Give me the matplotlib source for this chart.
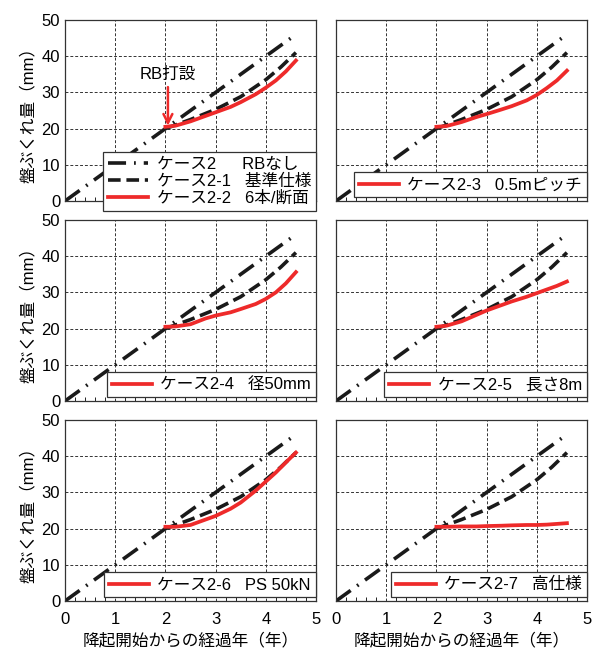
import matplotlib
matplotlib.use('Agg')
import matplotlib.pyplot as plt
from matplotlib.ticker import MultipleLocator

plt.rcParams['font.family'] = ['Liberation Sans', 'Noto Sans CJK JP']

# ケース2 (RBなし) and ケース2-1 (基準仕様)
x_base = [0, 4.5]
y_base = [0, 45]
x_std = [2.0, 2.5, 3.0, 3.5, 4.0, 4.3, 4.6]
y_std = [20.0, 22.5, 25.3, 28.8, 33.5, 37.0, 41.0]

x_red = [2.0, 2.2, 2.5, 2.8, 3.0, 3.3, 3.5, 3.8, 4.0, 4.2, 4.4, 4.6]
cases = [
    ('ケース2-2   6本/断面', [20.5, 20.8, 22.0, 23.5, 24.5, 26.0, 27.3, 29.5, 31.3, 33.3, 35.8, 38.8]),
    ('ケース2-3   0.5mピッチ', [20.5, 20.7, 21.8, 23.2, 24.0, 25.3, 26.2, 27.8, 29.3, 31.2, 33.3, 36.0]),
    ('ケース2-4   径50mm', [20.5, 20.6, 21.2, 22.8, 23.6, 24.5, 25.4, 26.8, 28.2, 30.0, 32.5, 35.6]),
    ('ケース2-5   長さ8m', [20.5, 20.8, 22.0, 23.8, 25.0, 26.5, 27.5, 28.8, 29.8, 30.8, 31.8, 33.0]),
    ('ケース2-6   PS 50kN', [20.5, 20.5, 21.0, 22.5, 23.5, 25.5, 27.2, 30.5, 33.0, 35.5, 38.3, 41.0]),
    ('ケース2-7   高仕様', [20.5, 20.5, 20.6, 20.6, 20.7, 20.8, 20.9, 21.0, 21.0, 21.1, 21.3, 21.5]),
]

W, H = 592, 653
fig = plt.figure(figsize=(W / 100, H / 100), dpi=100)

lefts = [65, 336]
tops = [20, 220, 420]
pw, ph = 251, 181

for i, (label, yv) in enumerate(cases):
    r, c = divmod(i, 2)
    ax = fig.add_axes([lefts[c] / W, 1 - (tops[r] + ph) / H, pw / W, ph / H])
    ax.plot(x_base, y_base, color='#1a1a1a', lw=2.6, dashes=[5, 2.2, 0.5, 2.2],
            label='ケース2　  RBなし')
    ax.plot(x_std, y_std, color='#1a1a1a', lw=2.6, dashes=[3.5, 1.6],
            label='ケース2-1   基準仕様')
    ax.plot(x_red, yv, color='#ee2a2a', lw=2.7, label=label)
    ax.set_xlim(0, 5)
    ax.set_ylim(0, 50)
    ax.xaxis.set_major_locator(MultipleLocator(1))
    ax.xaxis.set_minor_locator(MultipleLocator(0.2))
    ax.yaxis.set_major_locator(MultipleLocator(10))
    ax.grid(True, which='major', color='#333333', ls=(0, (3, 2)), lw=0.7)
    ax.tick_params(which='both', direction='in', labelsize=12)
    ax.tick_params(which='major', length=0)
    ax.tick_params(which='minor', length=3, width=0.6)
    for s in ax.spines.values():
        s.set_color('#333333')
        s.set_linewidth(0.9)
    if c == 0:
        ax.set_ylabel('盤ぶくれ量（mm）', fontsize=12, labelpad=4)
    else:
        ax.set_yticklabels([])
    if r == 2:
        ax.set_xlabel('降起開始からの経過年（年）', fontsize=12, labelpad=4)
        ax.tick_params(axis='x', pad=8)
    else:
        ax.set_xticklabels([])

    h, l = ax.get_legend_handles_labels()
    if i == 0:
        leg = ax.legend(h, l, loc='lower right', fontsize=12, handlelength=2.4,
                        borderaxespad=0.0, fancybox=False, framealpha=1,
                        edgecolor='#333333', borderpad=0.3, labelspacing=0.1,
                        handletextpad=0.5, bbox_to_anchor=(1.0, -0.055))
        ax.annotate('RB打設', xy=(2.05, 20.8), xytext=(2.05, 33), fontsize=12,
                    ha='center', va='bottom',
                    arrowprops=dict(arrowstyle='->', color='#ee2a2a', lw=1.8,
                                    shrinkA=2, shrinkB=0, mutation_scale=16))
    else:
        leg = ax.legend([h[2]], [l[2]], loc='lower right', fontsize=12,
                        handlelength=2.4, borderaxespad=0.0, fancybox=False,
                        framealpha=1, edgecolor='#333333', borderpad=0.3,
                        handletextpad=0.5, bbox_to_anchor=(1.0, 0.02))
    leg.get_frame().set_linewidth(0.9)

fig.savefig('out.png', dpi=100)
